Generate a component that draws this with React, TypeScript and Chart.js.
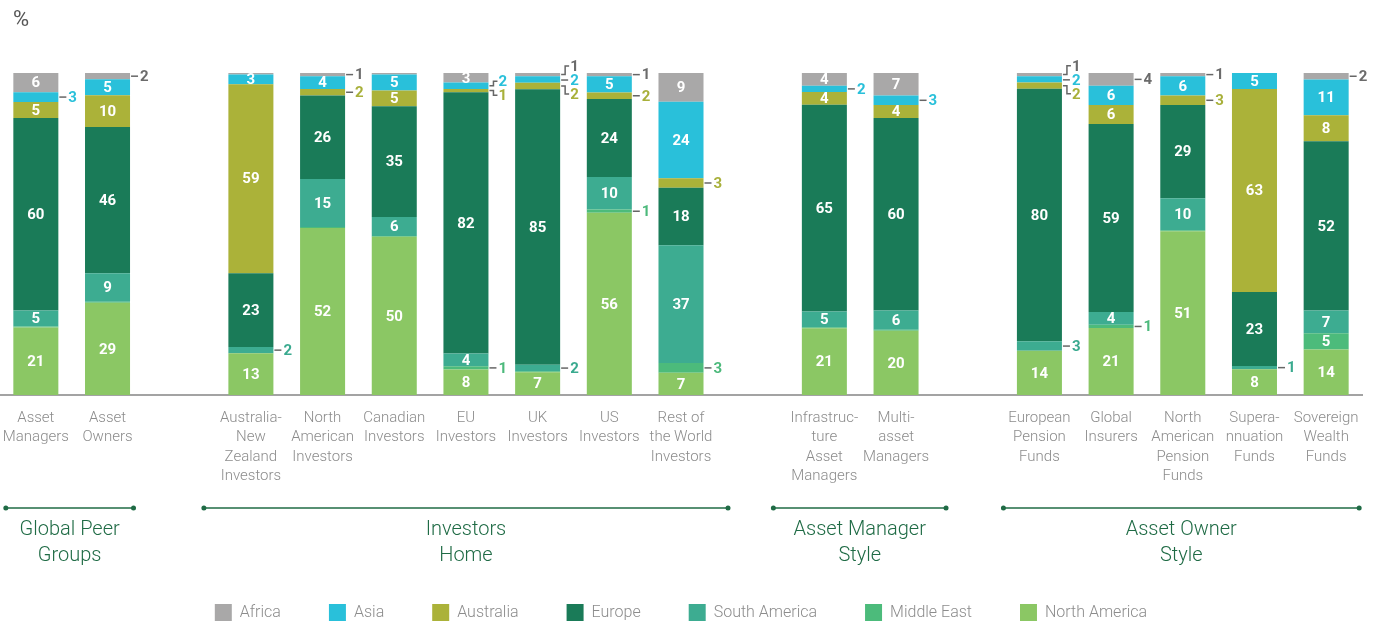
import React, { useEffect, useRef } from 'react';
import { Chart, registerables } from 'chart.js';

Chart.register(...registerables);

// ---------- DATA ----------
const categories: (string | string[])[] = [
  ['Asset', 'Managers'],
  ['Asset', 'Owners'],
  '',
  ['Australia-', 'New', 'Zealand', 'Investors'],
  ['North', 'American', 'Investors'],
  ['Canadian', 'Investors'],
  ['EU', 'Investors'],
  ['UK', 'Investors'],
  ['US', 'Investors'],
  ['Rest of', 'the World', 'Investors'],
  '',
  ['Infrastruc-', 'ture', 'Asset', 'Managers'],
  ['Multi-', 'asset', 'Managers'],
  '',
  ['European', 'Pension', 'Funds'],
  ['Global', 'Insurers'],
  ['North', 'American', 'Pension', 'Funds'],
  ['Supera-', 'nnuation', 'Funds'],
  ['Sovereign', 'Wealth', 'Funds'],
];

const northAmerica = [21, 29, null, 13, 52, 50, 8, 7, 56, 7, null, 21, 20, null, 14, 21, 51, 8, 14];
const middleEast = [0.3, 0.3, null, 0, 0.3, 0.3, 1, 0.3, 1, 3, null, 0.3, 0.3, null, 0, 1, 0.3, 0, 5];
const southAmerica = [5, 9, null, 2, 15, 6, 4, 2, 10, 37, null, 5, 6, null, 3, 4, 10, 1, 7];
const europe = [60, 46, null, 23, 26, 35, 82, 85, 24, 18, null, 65, 60, null, 80, 59, 29, 23, 52];
const australia = [5, 10, null, 59, 2, 5, 1, 2, 2, 3, null, 4, 4, null, 2, 6, 3, 63, 8];
const asia = [3, 5, null, 3, 4, 5, 2, 2, 5, 24, null, 2, 3, null, 2, 6, 6, 5, 11];
const africa = [6, 2, null, 0.5, 1, 0.5, 3, 1, 1, 9, null, 4, 7, null, 1, 4, 1, 0, 2];

// bottom-to-top stacking order
const seriesNames = ['North America', 'Middle East', 'South America', 'Europe', 'Australia', 'Asia', 'Africa'];
const seriesValues = [northAmerica, middleEast, southAmerica, europe, australia, asia, africa];
const seriesColors = ['#8bc764', '#4cbb7b', '#3dac91', '#1a7b58', '#abb239', '#29c0da', '#a9a8a8'];
const outsideLabelColors = ['#7fb85a', '#4cb97b', '#3aaa8f', '#1a7b58', '#a8b03a', '#29c0da', '#6b6b6b'];

// small values whose label sits inside the bar (series name, category index)
const insideSmall: [string, number][] = [
  ['Asia', 3], ['Asia', 4], ['South America', 6], ['Africa', 6],
  ['Africa', 11], ['Australia', 11], ['Australia', 12], ['South America', 15],
];

const groupNames = [['Global Peer', 'Groups'], ['Investors', 'Home'], ['Asset Manager', 'Style'], ['Asset Owner', 'Style']];
const groupFirst = [0, 3, 11, 14];
const groupLast = [1, 9, 12, 18];

// ---------- STYLE ----------
const FONT = 'Roboto, "Noto Sans", sans-serif';
const GREEN = '#1f6b45';
const groupPadLeft = [30, 47, 51, 36];
const groupPadRight = [26, 47, 50, 33];
const LEGEND_PAD = 48;

const totals = categories.map((_, i) => {
  let s = 0;
  let any = false;
  seriesValues.forEach((arr) => {
    const v = arr[i];
    if (v != null) { s += v; any = true; }
  });
  return any ? s : null;
});

const segLabelPlugin = {
  id: 'segLabels',
  afterDatasetsDraw(chart: any) {
    const ctx = chart.ctx;
    ctx.save();
    ctx.font = `bold 15px ${FONT}`;
    ctx.textBaseline = 'middle';
    for (let i = 0; i < categories.length; i++) {
      const outs: { v: number; ty: number; color: string; bx: number }[] = [];
      seriesValues.forEach((arr, di) => {
        const raw = arr[i];
        if (raw == null || raw < 1) return;
        const el = chart.getDatasetMeta(di).data[i];
        if (!el) return;
        const p = el.getProps(['x', 'y', 'base', 'width'], true);
        const cy = (p.y + p.base) / 2;
        const bx = p.x + p.width / 2;
        const inside = raw >= 5 || insideSmall.some(([k, c]) => k === seriesNames[di] && c === i);
        if (inside) {
          ctx.fillStyle = '#ffffff';
          ctx.textAlign = 'center';
          ctx.fillText(String(raw), p.x, cy + 1);
        } else {
          outs.push({ v: raw, ty: cy, color: outsideLabelColors[di], bx });
        }
      });
      if (!outs.length) continue;
      outs.sort((a, b) => a.ty - b.ty);
      const gap = 14;
      let clusters = outs.map((o) => ({ items: [o], center: o.ty }));
      let merged = true;
      while (merged) {
        merged = false;
        for (let k = 0; k < clusters.length - 1; k++) {
          const a = clusters[k];
          const b = clusters[k + 1];
          const aBottom = a.center + ((a.items.length - 1) * gap) / 2;
          const bTop = b.center - ((b.items.length - 1) * gap) / 2;
          if (bTop - aBottom < gap) {
            const items = a.items.concat(b.items);
            const center = items.reduce((s, o) => s + o.ty, 0) / items.length;
            clusters.splice(k, 2, { items, center });
            merged = true;
            break;
          }
        }
      }
      ctx.strokeStyle = '#666666';
      ctx.lineWidth = 1.5;
      clusters.forEach((c) => {
        c.items.forEach((o, k) => {
          const ly = c.center - ((c.items.length - 1) * gap) / 2 + k * gap;
          ctx.beginPath();
          if (Math.abs(ly - o.ty) > 1) {
            ctx.moveTo(o.bx + 1, o.ty);
            ctx.lineTo(o.bx + 5, o.ty);
            ctx.lineTo(o.bx + 5, ly);
            ctx.lineTo(o.bx + 9, ly);
          } else {
            ctx.moveTo(o.bx + 1, ly);
            ctx.lineTo(o.bx + 8, ly);
          }
          ctx.stroke();
          ctx.fillStyle = o.color;
          ctx.textAlign = 'left';
          ctx.fillText(String(o.v), o.bx + 10, ly + 1);
        });
      });
    }
    ctx.restore();
  },
};

const decorPlugin = {
  id: 'decor',
  afterDraw(chart: any) {
    const ctx = chart.ctx;
    const xs = chart.scales.x;
    const bottom = chart.chartArea.bottom;
    ctx.save();
    ctx.fillStyle = '#555555';
    ctx.font = `22px ${FONT}`;
    ctx.textAlign = 'left';
    ctx.textBaseline = 'middle';
    ctx.fillText('%', 13, 20);
    groupNames.forEach((name, g) => {
      const x1 = Math.max(5, xs.getPixelForValue(groupFirst[g]) - groupPadLeft[g]);
      const x2 = xs.getPixelForValue(groupLast[g]) + groupPadRight[g];
      const ly = bottom + 113;
      ctx.strokeStyle = GREEN;
      ctx.fillStyle = GREEN;
      ctx.lineWidth = 1.5;
      ctx.beginPath();
      ctx.moveTo(x1, ly);
      ctx.lineTo(x2, ly);
      ctx.stroke();
      [x1, x2].forEach((dx) => {
        ctx.beginPath();
        ctx.arc(dx, ly, 2.5, 0, Math.PI * 2);
        ctx.fill();
      });
      const cx = (x1 + x2) / 2;
      ctx.font = `300 20px ${FONT}`;
      ctx.textAlign = 'center';
      ctx.textBaseline = 'middle';
      name.forEach((line, k) => {
        ctx.fillText(line, cx, bottom + 135 + k * 26);
      });
    });
    ctx.restore();
  },
};

export default function App() {
  const ref = useRef<HTMLCanvasElement | null>(null);
  useEffect(() => {
    if (!ref.current) return;
    const datasets = seriesNames.map((name, di) => ({
      label: name,
      data: seriesValues[di].map((v, i) => (v == null || totals[i] == null ? null : (v / (totals[i] as number)) * 100)),
      backgroundColor: seriesColors[di],
      borderWidth: 0,
      categoryPercentage: 1,
      barPercentage: 0.628,
    }));
    const chart = new Chart(ref.current, {
      type: 'bar',
      data: { labels: categories as any, datasets },
      options: {
        animation: false,
        responsive: false,
        maintainAspectRatio: false,
        layout: { padding: { top: 73, left: 0, right: 24, bottom: -7 } },
        scales: {
          x: {
            stacked: true,
            grid: { display: false, drawTicks: true, tickLength: 13 },
            border: { display: true, color: '#a3a3a3', width: 2 },
            ticks: {
              autoSkip: false,
              maxRotation: 0,
              minRotation: 0,
              padding: 0,
              color: '#8c8c8c',
              font: { family: FONT, size: 15, weight: '300' as any, lineHeight: 1.3 },
            },
            afterFit: (scale: any) => { scale.height = 162 - (LEGEND_PAD - 46) + 1; },
          },
          y: { stacked: true, display: false, min: 0, max: 100 },
        },
        plugins: {
          legend: {
            position: 'bottom',
            reverse: true,
            labels: {
              boxWidth: 17,
              boxHeight: 17,
              padding: LEGEND_PAD,
              color: '#8c8c8c',
              font: { family: FONT, size: 16, weight: '300' as any },
            },
          },
          tooltip: { enabled: false },
        },
      },
      plugins: [segLabelPlugin, decorPlugin],
    });
    return () => chart.destroy();
  }, []);
  return (
    <div style={{ position: 'fixed', left: 0, top: 0, width: 1386, height: 624, background: '#ffffff' }}>
      <canvas ref={ref} width={1386} height={624} style={{ display: 'block' }} />
    </div>
  );
}
